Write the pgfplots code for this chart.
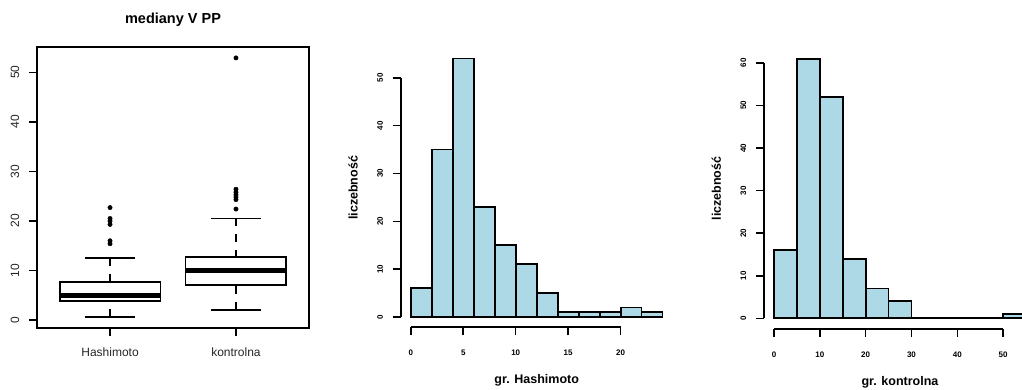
\documentclass[border=0pt]{standalone}
\usepackage{fontspec}
\setmainfont{Liberation Sans}
\usepackage{pgfplots}
\pgfplotsset{compat=1.18}
\usepgfplotslibrary{statistics}
\definecolor{lightblue}{HTML}{ADD8E6}

\pgfplotsset{
  rstyle/.style={
    scale only axis, anchor=south west,
    /pgf/number format/assume math mode=true,
    tick align=outside, xtick pos=bottom, ytick pos=left,
    major tick length=8pt,
    tick style={line width=1.5pt, black},
    axis line style={line width=1.8pt},
    clip=false,
  },
}

\begin{document}
\begin{tikzpicture}[x=1pt,y=1pt]
\useasboundingbox (0,0) rectangle (1022,389);

% ---------------- boxplot ----------------
\begin{axis}[rstyle,
  at={(37pt,61pt)}, width=272pt, height=281pt,
  xmin=0.42, xmax=2.58, ymin=-1.6, ymax=55.1,
  xtick={1,2}, xticklabels={Hashimoto,kontrolna},
  ytick={0,10,20,30,40,50},
  tick label style={font=\fontsize{12}{14}\selectfont, text=black!85},
  xticklabel style={anchor=center, yshift=-16pt},
  yticklabel style={xshift=-14pt, rotate=90, anchor=center},
  title={mediany V PP},
  title style={font=\fontsize{14.5}{17}\selectfont\bfseries, at={(0.5,1)}, anchor=center, yshift=21pt},
  boxplot/draw direction=y,
  boxplot/every median/.style={line width=5.5pt},
  boxplot/draw/lower whisker/.code={%
    \draw[line width=1.8pt, dash pattern=on 8pt off 8pt]
      (boxplot cs:\pgfplotsboxplotvalue{lower whisker}) -- (boxplot cs:\pgfplotsboxplotvalue{lower quartile});
    \draw[line width=1.8pt]
      (boxplot whisker cs:\pgfplotsboxplotvalue{lower whisker},0) -- (boxplot whisker cs:\pgfplotsboxplotvalue{lower whisker},1);
  },
  boxplot/draw/upper whisker/.code={%
    \draw[line width=1.8pt, dash pattern=on 8pt off 8pt]
      (boxplot cs:\pgfplotsboxplotvalue{upper whisker}) -- (boxplot cs:\pgfplotsboxplotvalue{upper quartile});
    \draw[line width=1.8pt]
      (boxplot whisker cs:\pgfplotsboxplotvalue{upper whisker},0) -- (boxplot whisker cs:\pgfplotsboxplotvalue{upper whisker},1);
  },
]
\addplot[black, line width=1.8pt, fill=white, mark=*, mark size=2.2pt,
  mark options={solid, fill=black, line width=0.4pt},
  boxplot prepared={draw position=1, lower whisker=0.7, lower quartile=3.9,
    median=5.0, upper quartile=7.7, upper whisker=12.6,
    box extend=0.8, whisker extend=0.4}]
  table[row sep=\\, y index=0] {data\\ 15.4\\ 16.0\\ 19.3\\ 20.0\\ 20.5\\ 22.7\\};
\addplot[black, line width=1.8pt, fill=white, mark=*, mark size=2.2pt,
  mark options={solid, fill=black, line width=0.4pt},
  boxplot prepared={draw position=2, lower whisker=2.0, lower quartile=7.0,
    median=10.0, upper quartile=12.7, upper whisker=20.5,
    box extend=0.8, whisker extend=0.4}]
  table[row sep=\\, y index=0] {data\\ 22.4\\ 24.3\\ 24.8\\ 25.3\\ 25.8\\ 26.4\\ 52.9\\};
\end{axis}

% ---------------- histogram Hashimoto ----------------
\begin{axis}[rstyle,
  at={(400.7pt,61.7pt)}, width=272pt, height=279pt,
  xmin=-0.96, xmax=24.96, ymin=-2.16, ymax=56.16,
  axis line style={draw=none},
  xtick={0,5,10,15,20}, ytick={0,10,20,30,40,50},
  tick label style={font=\fontsize{8}{9}\selectfont\bfseries},
  xticklabel style={anchor=center, yshift=-17.7pt},
  yticklabel style={xshift=-12.7pt, rotate=90, anchor=center},
  xlabel={gr. Hashimoto}, ylabel={liczebność},
  label style={font=\fontsize{12.5}{15}\selectfont\bfseries},
  xlabel style={at={(axis description cs:0.5,-0.1914)}, anchor=center},
  ylabel style={at={(axis description cs:-0.1754,0.5)}, anchor=center},
]
\addplot[ybar interval, fill=lightblue, draw=black, line width=1.7pt]
  coordinates {(0,6) (2,35) (4,54) (6,23) (8,15) (10,11) (12,5) (14,1) (16,1) (18,1) (20,2) (22,1) (24,1)};
\draw[line width=1.8pt] (axis cs:-0.96,0) -- (axis cs:-0.96,50);
\draw[line width=1.8pt] (axis cs:0,-2.16) -- (axis cs:20,-2.16);
\end{axis}

% ---------------- histogram kontrolna ----------------
\begin{axis}[rstyle,
  at={(764pt,60.3pt)}, width=272pt, height=280.4pt,
  xmin=-2.2, xmax=57.2, ymin=-2.44, ymax=63.44,
  axis line style={draw=none},
  xtick={0,10,20,30,40,50}, ytick={0,10,20,30,40,50,60},
  tick label style={font=\fontsize{8}{9}\selectfont\bfseries},
  xticklabel style={anchor=center, yshift=-17.7pt},
  yticklabel style={xshift=-12.7pt, rotate=90, anchor=center},
  xlabel={gr. kontrolna}, ylabel={liczebność},
  label style={font=\fontsize{12.5}{15}\selectfont\bfseries},
  xlabel style={at={(axis description cs:0.5,-0.1904)}, anchor=center},
  ylabel style={at={(axis description cs:-0.1754,0.5)}, anchor=center},
]
\addplot[ybar interval, fill=lightblue, draw=black, line width=1.7pt]
  coordinates {(0,16) (5,61) (10,52) (15,14) (20,7) (25,4) (30,0) (35,0) (40,0) (45,0) (50,1) (55,1)};
\draw[line width=1.8pt] (axis cs:-2.2,0) -- (axis cs:-2.2,60);
\draw[line width=1.8pt] (axis cs:0,-2.44) -- (axis cs:50,-2.44);
\end{axis}
\end{tikzpicture}
\end{document}
